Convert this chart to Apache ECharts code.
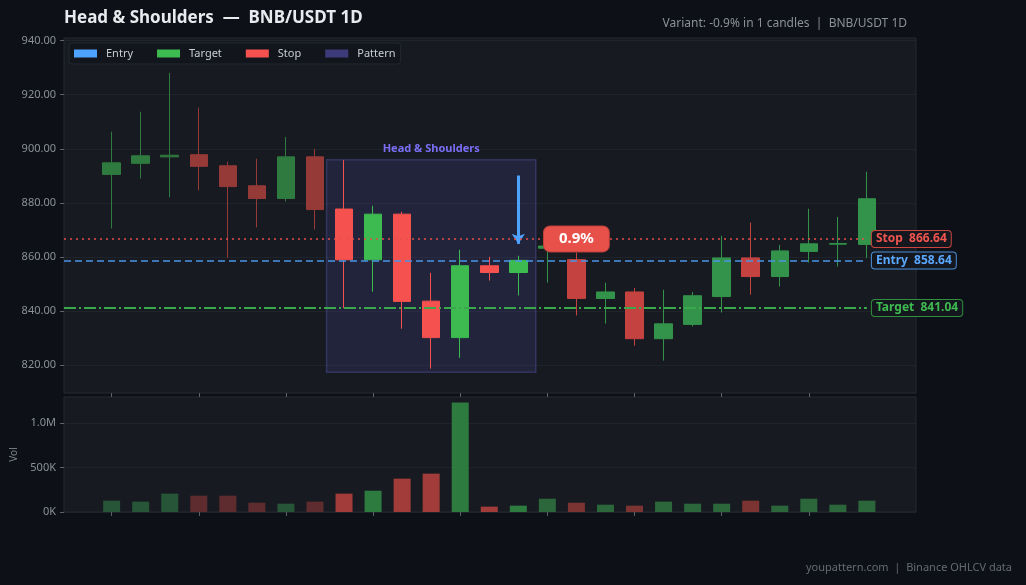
<!DOCTYPE html>
<html><head><meta charset="utf-8">
<script src="https://cdn.jsdelivr.net/npm/echarts@6/dist/echarts.min.js"></script>
<style>html,body{margin:0;padding:0;background:#0d1017;}#chart{width:1026px;height:585px;}</style>
</head><body><div id="chart"></div>
<script>
// ---- data ----
const candleIndex = [0,1,2,3,4,5,6,7,8,9,10,11,12,13,14,15,16,17,18,19,20,21,22,23,24,25,26];
const opens  = [890.5,894.6,897.0,897.8,893.7,886.3,881.6,897.0,877.7,858.9,875.8,843.6,830.1,856.7,854.2,863.2,859.0,844.6,847.0,829.7,835.0,845.3,859.6,852.7,862.0,864.7,864.6];
const closes = [894.8,897.4,897.6,893.5,886.0,881.6,897.0,877.5,858.9,875.8,843.5,830.1,856.7,854.2,858.7,864.0,844.6,847.0,829.7,835.2,845.6,859.6,852.7,862.2,864.8,864.9,881.5];
const highs  = [906.3,913.7,928.1,915.2,895.2,896.3,904.4,900.0,895.8,878.9,876.7,854.1,862.6,860.0,860.4,866.5,861.5,850.4,848.5,847.8,847.0,867.8,872.7,864.4,877.8,874.8,891.5];
const lows   = [870.5,889.0,882.0,884.6,859.6,870.9,880.5,870.1,841.0,847.1,833.4,818.6,822.6,851.2,845.7,850.5,838.3,835.3,827.1,821.6,834.2,839.4,846.0,849.0,857.9,856.4,859.6];
const volumes = [127000,116000,206000,183000,183000,104000,93000,116000,206000,239000,374000,430000,1228000,60000,71000,149000,104000,82000,71000,116000,93000,93000,127000,71000,149000,82000,127000];
const priceTicks = [820,840,860,880,900,920,940];
const volumeTicks = [0,500000,1000000];
const xTicks = [0,3,6,9,12,15,18,21,24];
const entryLevel = 858.64, stopLevel = 866.64, targetLevel = 841.04;
const patternStart = 8, patternEnd = 14;
const signalIndex = 14, badgeIndex = 16;
const arrowTop = 890.1, arrowTip = 864.8;
const moveLabel = '0.9%';
const patternName = 'Head & Shoulders';
const titleText = 'Head & Shoulders  \u2014  BNB/USDT 1D';
const subText = 'Variant: -0.9% in 1 candles  |  BNB/USDT 1D';
const footerText = 'youpattern.com  |  Binance OHLCV data';

// ---- styling ----
const FONT = '"Noto Sans", "Open Sans", sans-serif';
const xMin = -1.64, xMax = 27.69;
const lastIdx = candleIndex[candleIndex.length - 1];
function candleColor(i, up) {
  if (i < patternStart) return up ? '#2f7a3f' : '#963a38';
  if (i <= patternEnd) return up ? '#3dba50' : '#f5514e';
  return up ? '#33934a' : '#c4423f';
}
function volColor(i, up) {
  if (i < patternStart) return up ? '#265538' : '#5e2c2e';
  if (i <= patternEnd) return up ? '#2e7b40' : '#a13c3a';
  return up ? '#2b673b' : '#7c3433';
}
const candleData = candleIndex.map(i => {
  const up = closes[i] >= opens[i];
  const c = candleColor(i, up);
  return { value: [i, opens[i], closes[i], lows[i], highs[i]],
           itemStyle: { color: c, color0: c, borderColor: c, borderColor0: c } };
});
const volData = candleIndex.map(i => {
  const up = closes[i] >= opens[i];
  return { value: [i, volumes[i]], itemStyle: { color: volColor(i, up) } };
});
const patHigh = Math.max(...highs.slice(patternStart, patternEnd + 1));
const patLow = Math.min(...lows.slice(patternStart, patternEnd + 1));
const maxVol = Math.max(...volumes);

function levelLabel(name, val, color, border) {
  return { show: true, position: 'end', distance: 5, formatter: name + '  ' + val.toFixed(2),
    color: color, fontWeight: 'bold', fontSize: 12, fontFamily: FONT,
    backgroundColor: '#14171d', borderColor: border, borderWidth: 1, borderRadius: 3, padding: [2, 4] };
}
const axisTickStyle = { color: '#5c626c' };

const option = {
  backgroundColor: '#0d1017',
  animation: false,
  textStyle: { fontFamily: FONT },
  title: [
    { text: titleText, left: 64, top: 10, padding: 0, textStyle: { color: '#e8eaed', fontSize: 17, fontWeight: 'bold', fontFamily: FONT } },
    { text: subText, right: 119, top: 18, padding: 0, textStyle: { color: '#8b9099', fontSize: 12, fontWeight: 'normal', fontFamily: FONT } },
    { text: footerText, right: 14, top: 562, padding: 0, textStyle: { color: '#646a73', fontSize: 11, fontWeight: 'normal', fontFamily: FONT } }
  ],
  legend: {
    data: ['Entry', 'Target', 'Stop', 'Pattern'],
    left: 69, top: 43, padding: [5, 5], icon: 'rect', itemWidth: 23, itemHeight: 8, itemGap: 24,
    backgroundColor: '#12161c', borderColor: '#23272e', borderWidth: 1, borderRadius: 3,
    itemStyle: { borderWidth: 0 },
    textStyle: { color: '#c9cdd4', fontSize: 11, fontFamily: FONT, padding: [0, 0, 0, 4] },
    selectedMode: false
  },
  grid: [
    { left: 64, right: 110, top: 38, height: 355, show: true, backgroundColor: '#171b21', borderColor: '#262a31', borderWidth: 1 },
    { left: 64, right: 110, top: 397, height: 115, show: true, backgroundColor: '#171b21', borderColor: '#262a31', borderWidth: 1 }
  ],
  xAxis: [
    { type: 'value', gridIndex: 0, min: xMin, max: xMax, axisLine: { show: false, onZero: false }, axisLabel: { show: false },
      axisTick: { show: true, customValues: xTicks, length: 4, lineStyle: axisTickStyle }, splitLine: { show: false } },
    { type: 'value', gridIndex: 1, min: xMin, max: xMax, axisLine: { show: false, onZero: false }, axisLabel: { show: false },
      axisTick: { show: true, customValues: xTicks, length: 4, lineStyle: axisTickStyle }, splitLine: { show: false } }
  ],
  yAxis: [
    { type: 'value', gridIndex: 0, min: 809.6, max: 941, splitNumber: 6, axisLine: { show: false, onZero: false },
      axisTick: { show: true, customValues: priceTicks, length: 4, lineStyle: axisTickStyle },
      axisLabel: { customValues: priceTicks, formatter: v => v.toFixed(2), color: '#8b9099', fontSize: 11, margin: 8 },
      splitLine: { show: true, lineStyle: { color: '#1f242b' } } },
    { type: 'value', gridIndex: 1, min: 0, max: maxVol * 1.05, interval: 500000, axisLine: { show: false, onZero: false },
      name: 'Vol', nameLocation: 'middle', nameGap: 45, nameRotate: 90, nameTextStyle: { color: '#7d838c', fontSize: 10 },
      axisTick: { show: true, customValues: volumeTicks, length: 4, lineStyle: axisTickStyle },
      axisLabel: { customValues: volumeTicks, color: '#8b9099', fontSize: 11, margin: 8,
        formatter: v => v >= 1e6 ? (v / 1e6).toFixed(1) + 'M' : (v / 1e3).toFixed(0) + 'K' },
      splitLine: { show: true, lineStyle: { color: '#1f242b' } } }
  ],
  series: [
    { name: 'Pattern', type: 'line', xAxisIndex: 0, yAxisIndex: 0, data: [], color: '#3d3a7a', z: 1,
      markArea: { silent: true,
        itemStyle: { color: 'rgba(72,70,150,0.22)', borderColor: 'rgba(95,92,190,0.35)', borderWidth: 1.5 },
        label: { show: true, position: 'top', distance: 5, formatter: patternName, color: '#7b6ef6', fontWeight: 'bold', fontSize: 11, fontFamily: FONT },
        data: [[{ coord: [patternStart - 0.6, patHigh + 0.1] }, { coord: [patternEnd + 0.6, patLow - 1.3] }]] } },
    { name: 'Candles', type: 'candlestick', xAxisIndex: 0, yAxisIndex: 0, barWidth: 18, z: 2, data: candleData },
    { name: 'Volume', type: 'bar', xAxisIndex: 1, yAxisIndex: 1, barWidth: 17, data: volData },
    { name: 'Entry', type: 'line', xAxisIndex: 0, yAxisIndex: 0, data: [], color: '#4da3ff',
      markLine: { silent: true, symbol: ['none', 'none'], z: 5, animation: false,
        data: [
          [{ coord: [xMin, entryLevel], lineStyle: { color: '#4a95e6', width: 1.6, type: [7, 4] },
             label: levelLabel('Entry', entryLevel, '#5aa8ff', '#4a8ed8') },
           { coord: [lastIdx, entryLevel] }],
          [{ coord: [signalIndex, arrowTop], symbol: 'none', lineStyle: { color: '#4da3ff', width: 3, type: 'solid' }, label: { show: false } },
           { coord: [signalIndex, arrowTip], symbol: 'arrow', symbolSize: 10 }]
        ] } },
    { name: 'Target', type: 'line', xAxisIndex: 0, yAxisIndex: 0, data: [], color: '#3dba50',
      markLine: { silent: true, symbol: ['none', 'none'], z: 5, animation: false,
        data: [[{ coord: [xMin, targetLevel], lineStyle: { color: '#3aa94c', width: 1.8, type: [12, 3, 2, 3] },
                  label: levelLabel('Target', targetLevel, '#3dba50', '#2f8f3e') },
                { coord: [lastIdx, targetLevel] }]] } },
    { name: 'Stop', type: 'line', xAxisIndex: 0, yAxisIndex: 0, data: [], color: '#f5514e',
      markLine: { silent: true, symbol: ['none', 'none'], z: 5, animation: false,
        data: [[{ coord: [xMin, stopLevel], lineStyle: { color: '#e5504c', width: 1.6, type: [2, 4] },
                  label: levelLabel('Stop', stopLevel, '#f0554f', '#c8463f') },
                { coord: [lastIdx, stopLevel] }]] },
      markPoint: { silent: true, z: 10, symbol: 'circle', symbolSize: 1, itemStyle: { color: 'rgba(0,0,0,0)' },
        label: { show: true, position: 'inside', formatter: moveLabel, color: '#ffffff', fontWeight: 'bold', fontSize: 15, fontFamily: FONT,
          backgroundColor: '#e8504a', borderColor: '#b8403b', borderWidth: 1, borderRadius: 6, padding: [5, 15] },
        data: [{ coord: [badgeIndex, stopLevel] }] } }
  ]
};
const chart = echarts.init(document.getElementById('chart'), null, { renderer: 'canvas' });
chart.setOption(option);
</script></body></html>
